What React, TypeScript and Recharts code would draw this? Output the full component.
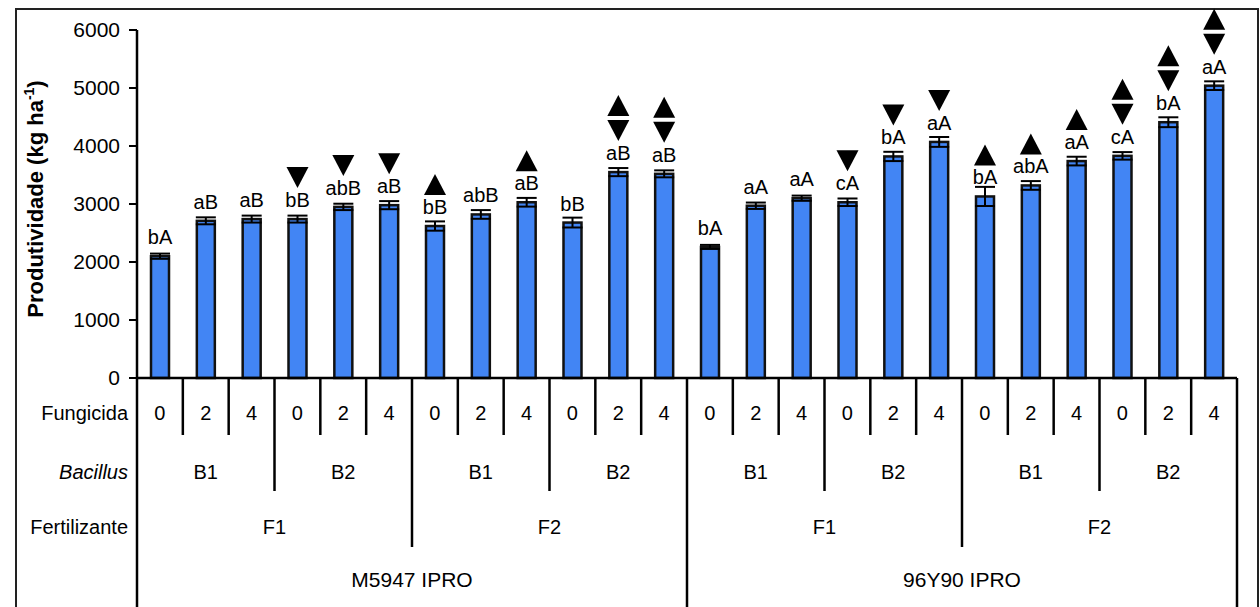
import React from 'react';
import { BarChart, Bar, XAxis, YAxis, ErrorBar } from 'recharts';

// factor levels, in plotting order (cultivar > fertilizer > Bacillus > fungicide dose)
const cultivares = ['M5947 IPRO', '96Y90 IPRO'];
const fertilizantes = ['F1', 'F2'];
const bacillus = ['B1', 'B2'];
const doses = ['0', '2', '4'];

// yield (kg/ha) and standard error, one per bar
const produtividade = [
  2100, 2710, 2740, 2740, 2950, 2980, 2620, 2820, 3030, 2680, 3550, 3520,
  2260, 2970, 3100, 3030, 3820, 4070, 3130, 3320, 3740, 3830, 4410, 5040,
];
const erroPadrao = [
  45, 60, 60, 60, 55, 70, 80, 75, 75, 85, 70, 60,
  35, 55, 45, 65, 80, 85, 165, 75, 75, 65, 85, 75,
];

// mean comparison letters and significance arrows
const letras = [
  'bA', 'aB', 'aB', 'bB', 'abB', 'aB', 'bB', 'abB', 'aB', 'bB', 'aB', 'aB',
  'bA', 'aA', 'aA', 'cA', 'bA', 'aA', 'bA', 'abA', 'aA', 'cA', 'bA', 'aA',
];
const setas = [
  '', '', '', 'down', 'down', 'down', 'up', '', 'up', '', 'both', 'both',
  '', '', '', 'down', 'down', 'down', 'up', 'up', 'up', 'both', 'both', 'both',
];

const yTicks = [0, 1000, 2000, 3000, 4000, 5000, 6000];

const data: any[] = [];
cultivares.forEach((cv) =>
  fertilizantes.forEach((fert) =>
    bacillus.forEach((bac) =>
      doses.forEach((dose) => {
        const i = data.length;
        data.push({
          id: `${cv}-${fert}-${bac}-${dose}`,
          cv, fert, bac, dose,
          valor: produtividade[i],
          erro: erroPadrao[i],
          letra: letras[i],
          seta: setas[i],
        });
      })
    )
  )
);

const FONT = '"Liberation Sans", Arial, sans-serif';
const W = 1260;
const H = 607;
const PLOT_LEFT = 137;
const PLOT_RIGHT = 1237;
const AXIS_H = 229;
const CAT_W = (PLOT_RIGHT - PLOT_LEFT) / data.length;

function tri(cx: number, top: number, bottom: number, up: boolean, key: string) {
  const pts = up
    ? `${cx - 11},${bottom} ${cx + 11},${bottom} ${cx},${top}`
    : `${cx - 11},${top} ${cx + 11},${top} ${cx},${bottom}`;
  return <polygon key={key} points={pts} fill="#000" />;
}

function BarWithMarks(props: any) {
  const { x, y, width, height, payload } = props;
  const cx = x + width / 2;
  const marks: React.ReactNode[] = [];
  if (payload.seta === 'up') marks.push(tri(cx, y - 52, y - 31, true, 'u'));
  if (payload.seta === 'down') marks.push(tri(cx, y - 52, y - 31, false, 'd'));
  if (payload.seta === 'both') {
    marks.push(tri(cx, y - 77, y - 56, true, 'u'));
    marks.push(tri(cx, y - 52, y - 31, false, 'd'));
  }
  return (
    <g>
      <rect x={x} y={y} width={width} height={height} fill="#4285F4" stroke="#111" strokeWidth={2.5} />
      <text x={cx} y={y - 12} textAnchor="middle" fontSize={20} fontFamily={FONT} fill="#000">
        {payload.letra}
      </text>
      {marks}
    </g>
  );
}

// nested category table under the x axis
function TabelaTick(props: any) {
  const { x, y, payload } = props;
  const i: number = payload.index;
  const row = data[i];
  const half = CAT_W / 2;
  const txt = { fontSize: 20, fontFamily: FONT, fill: '#000', textAnchor: 'middle' as const };

  const n = i + 1;
  let depth = 57;
  if (n % 12 === 0) depth = H - y;
  else if (n % 6 === 0) depth = 169;
  else if (n % 3 === 0) depth = 113;

  return (
    <g>
      <text x={x} y={y + 42} {...txt}>{row.dose}</text>
      <line x1={x + half} y1={y} x2={x + half} y2={y + depth} stroke="#000" strokeWidth={2.5} />
      {i === 0 && (
        <g>
          <line x1={x - half} y1={y} x2={x - half} y2={H} stroke="#000" strokeWidth={2.5} />
          <text x={x - half - 9} y={y + 42} {...txt} textAnchor="end">Fungicida</text>
          <text x={x - half - 9} y={y + 101} {...txt} textAnchor="end" fontStyle="italic">Bacillus</text>
          <text x={x - half - 9} y={y + 156} {...txt} textAnchor="end">Fertilizante</text>
        </g>
      )}
      {i % 3 === 1 && <text x={x} y={y + 101} {...txt}>{row.bac}</text>}
      {i % 6 === 2 && <text x={x + half} y={y + 156} {...txt}>{row.fert}</text>}
      {i % 12 === 5 && <text x={x + half} y={y + 209} {...txt} fontSize={21}>{row.cv}</text>}
    </g>
  );
}

function TituloY() {
  return (
    <text
      x={43}
      y={199}
      transform="rotate(-90, 43, 199)"
      textAnchor="middle"
      fontSize={22}
      fontWeight="bold"
      fontFamily={FONT}
      fill="#000"
    >
      Produtividade (kg ha
      <tspan dy={-9} fontSize={14}>-1</tspan>
      <tspan dy={9}>)</tspan>
    </text>
  );
}

export default function App() {
  return (
    <div style={{ position: 'absolute', left: 0, top: 0, width: W, height: H, overflow: 'hidden', background: '#fff' }}>
      <div
        style={{
          position: 'absolute', left: 15, top: 8, width: 1244, height: 640,
          border: '2px solid #222', boxSizing: 'border-box',
        }}
      />
      <div style={{ position: 'absolute', left: 0, top: 0 }}>
        <BarChart width={W} height={H} data={data} margin={{ top: 30, right: W - PLOT_RIGHT, bottom: 0, left: 0 }}>
          <XAxis
            dataKey="id"
            height={AXIS_H}
            interval={0}
            tickSize={0}
            tickMargin={0}
            tickLine={false}
            axisLine={{ stroke: '#000', strokeWidth: 2.5 }}
            tick={<TabelaTick />}
          />
          <YAxis
            width={PLOT_LEFT}
            domain={[0, 6000]}
            ticks={yTicks}
            interval={0}
            tickSize={8}
            tickMargin={9}
            tickLine={{ stroke: '#000', strokeWidth: 2 }}
            axisLine={{ stroke: '#000', strokeWidth: 2.5 }}
            tick={{ fontSize: 21, fill: '#000', fontFamily: FONT }}
            label={<TituloY />}
          />
          <Bar dataKey="valor" barSize={18} shape={<BarWithMarks />} isAnimationActive={false}>
            <ErrorBar dataKey="erro" width={10} stroke="#000" strokeWidth={2} />
          </Bar>
        </BarChart>
      </div>
    </div>
  );
}
